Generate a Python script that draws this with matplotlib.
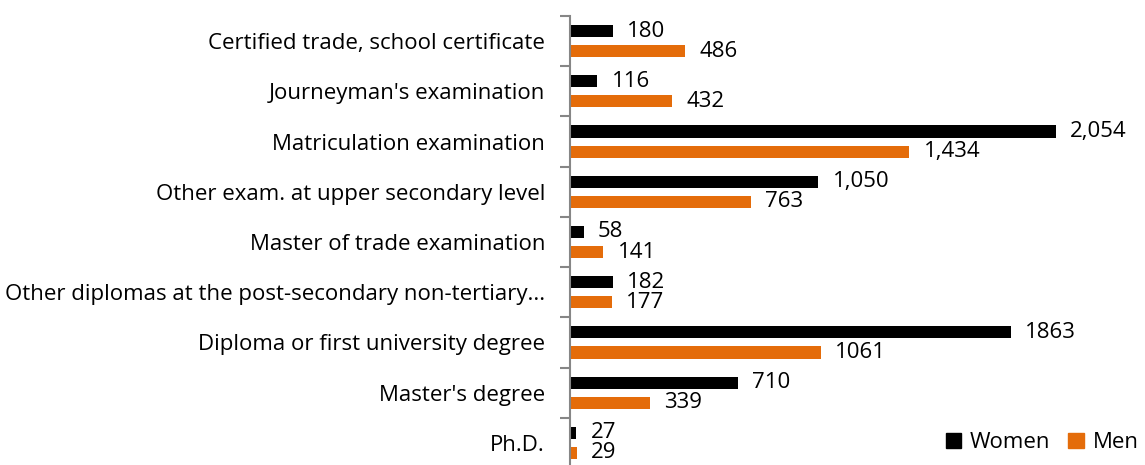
import matplotlib.pyplot as plt
import numpy as np
from matplotlib.patches import Patch

categories = ['Certified trade, school certificate', "Journeyman's examination",
              'Matriculation examination', 'Other exam. at upper secondary level',
              'Master of trade examination',
              'Other diplomas at the post-secondary non-tertiary...',
              'Diploma or first university degree', "Master's degree", 'Ph.D.']
women = [180, 116, 2054, 1050, 58, 182, 1863, 710, 27]
men = [486, 432, 1434, 763, 141, 177, 1061, 339, 29]
women_labels = ['180', '116', '2,054', '1,050', '58', '182', '1863', '710', '27']
men_labels = ['486', '432', '1,434', '763', '141', '177', '1061', '339', '29']

plt.rcParams['font.family'] = ['Open Sans', 'DejaVu Sans']
fs = 16

fig = plt.figure(figsize=(11.45, 4.65), dpi=100)
ax = fig.add_axes([570 / 1145, -3 / 465, 575 / 1145, 452 / 465])

y = np.arange(len(categories))
ax.barh(y - 0.2, women, height=0.24, color='black')
ax.barh(y + 0.2, men, height=0.24, color='#E46C0A')

for i in range(len(categories)):
    ax.text(women[i] + 60, y[i] - 0.2, women_labels[i], va='center', fontsize=fs)
    ax.text(men[i] + 60, y[i] + 0.2, men_labels[i], va='center', fontsize=fs)

ax.set_xlim(0, 2430)
ax.set_ylim(len(categories) - 0.5, -0.5)
ax.set_yticks(y)
ax.set_yticklabels(categories, fontsize=fs)
ax.set_yticks(np.arange(len(categories) + 1) - 0.5, minor=True)
ax.tick_params(axis='y', which='major', length=0, pad=18)
ax.tick_params(axis='y', which='minor', length=7, color='#868686', width=1.5)
ax.set_xticks([])
for side in ['top', 'right', 'bottom']:
    ax.spines[side].set_visible(False)
ax.spines['left'].set_color('#868686')
ax.spines['left'].set_linewidth(1.5)

handles = [Patch(color='black', label='Women'), Patch(color='#E46C0A', label='Men')]
fig.legend(handles=handles, loc='lower right', bbox_to_anchor=(1.012, -0.018), ncol=2,
           frameon=False, fontsize=fs, handlelength=0.7, handleheight=0.7,
           handletextpad=0.4, columnspacing=0.8)

fig.savefig('out.png', dpi=100)
